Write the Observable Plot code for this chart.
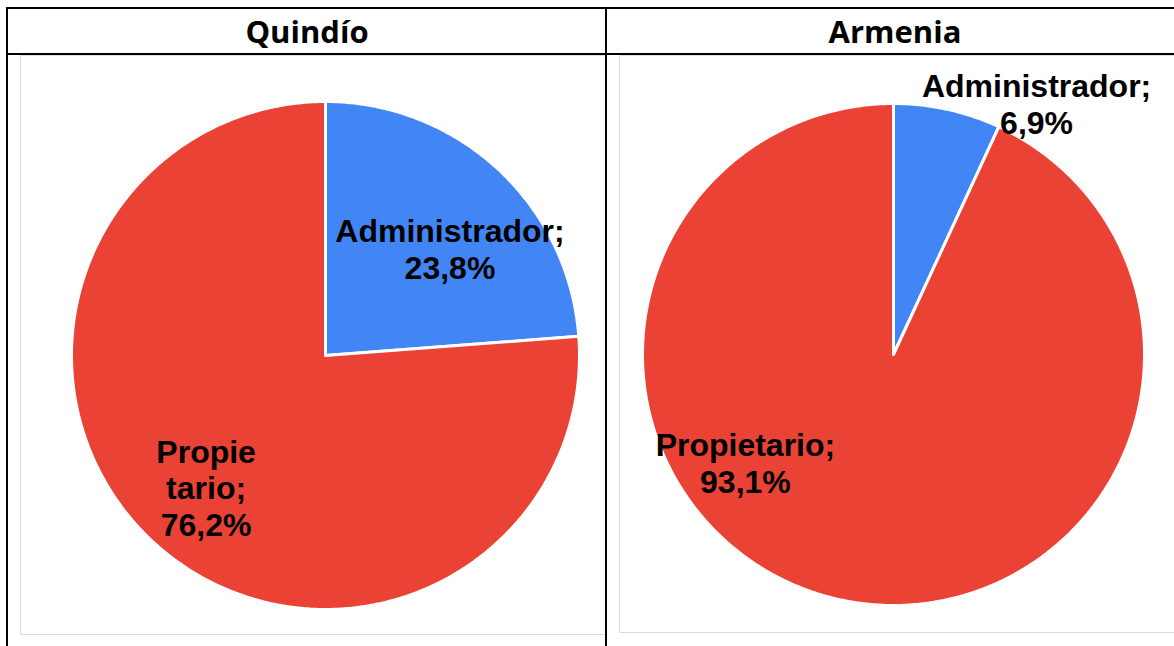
<!DOCTYPE html>
<html>
<head>
<meta charset="utf-8">
<script src="https://cdn.jsdelivr.net/npm/d3@7"></script>
<script src="https://cdn.jsdelivr.net/npm/@observablehq/plot@0.6"></script>
<style>
  html, body { margin: 0; padding: 0; background: #fff; }
  #page { position: relative; width: 1174px; height: 646px; overflow: hidden; background: #fff; }
  .bl { position: absolute; background: #000; }
  .box { position: absolute; border: 1.5px solid #dcdcdc; box-sizing: border-box; background: #fff; }
  .hdr { position: absolute; top: 8px; height: 46px; line-height: 47px; text-align: center;
         font-family: "Open Sans", sans-serif; font-weight: 700; font-size: 31px; color: #000; }
  .chart { position: absolute; }
</style>
</head>
<body>
<div id="page">
  <div class="hdr" style="left:8px;width:598px">Quindío</div>
  <div class="hdr" style="left:607px;width:576px">Armenia</div>
  <div class="box" style="left:20px;top:55px;width:587px;height:580px"></div>
  <div class="box" style="left:619px;top:55px;width:570px;height:578px"></div>
  <div class="bl" style="left:6px;top:7px;width:1168px;height:2px"></div>
  <div class="bl" style="left:6px;top:53px;width:1168px;height:1.5px"></div>
  <div class="bl" style="left:6px;top:7px;width:2px;height:639px"></div>
  <div class="bl" style="left:605px;top:7px;width:1.5px;height:639px"></div>
  <div id="c1" class="chart" style="left:21px;top:57px"></div>
  <div id="c2" class="chart" style="left:621px;top:57px"></div>
</div>
<script>
// ---- data ----
const regions = ["Quindío", "Armenia"];
const categories = ["Administrador", "Propietario"];
const quindioValues = [23.8, 76.2];
const armeniaValues = [6.9, 93.1];
const quindioLabels = ["Administrador;\n23,8%", "Propie\ntario;\n76,2%"];
const armeniaLabels = ["Administrador;\n6,9%", "Propietario;\n93,1%"];
const colors = ["#4285F4", "#EA4335"];

function slicePoints(values) {
  const arcs = d3.pie().sort(null).startAngle(0).endAngle(2 * Math.PI)(values);
  const pts = [];
  arcs.forEach((a, i) => {
    const cat = categories[i];
    pts.push({cat, x: 0, y: 0});
    const n = Math.max(4, Math.ceil((a.endAngle - a.startAngle) / (Math.PI / 360)));
    for (let k = 0; k <= n; k++) {
      const t = a.startAngle + (a.endAngle - a.startAngle) * k / n;
      pts.push({cat, x: Math.sin(t), y: Math.cos(t)});
    }
    pts.push({cat, x: 0, y: 0});
  });
  return pts;
}

function drawPie(el, values, labels, cfg) {
  const pts = slicePoints(values);
  const labelData = categories.map((c, i) => ({cat: c, text: labels[i], x: cfg.lab[i][0], y: cfg.lab[i][1]}));
  const chart = Plot.plot({
    width: cfg.w, height: cfg.h,
    margin: 0,
    x: {domain: [-1, 1], range: [cfg.cx - cfg.r, cfg.cx + cfg.r], axis: null},
    y: {domain: [-1, 1], range: [cfg.cy + cfg.r, cfg.cy - cfg.r], axis: null},
    color: {domain: categories, range: colors},
    style: {background: "transparent", overflow: "visible"},
    marks: [
      Plot.line(pts, {x: "x", y: "y", z: "cat", fill: "cat", stroke: "white", strokeWidth: 3, strokeLinejoin: "round", curve: "linear"}),
      Plot.text(labelData, {x: "x", y: "y", text: "text", fill: "#000", fontSize: 32, fontWeight: "bold",
        fontFamily: "'Liberation Sans', Arial, sans-serif", lineHeight: 1.15, textAnchor: "middle", lineAnchor: "middle"})
    ]
  });
  document.getElementById(el).appendChild(chart);
}

drawPie("c1", quindioValues, quindioLabels, {w: 584, h: 576, cx: 304, cy: 298, r: 254,
  lab: [[0.49, 0.42], [-0.47, -0.52]]});
drawPie("c2", armeniaValues, armeniaLabels, {w: 553, h: 575, cx: 272, cy: 297, r: 251,
  lab: [[0.57, 1.0], [-0.59, -0.43]]});
</script>
</body>
</html>
